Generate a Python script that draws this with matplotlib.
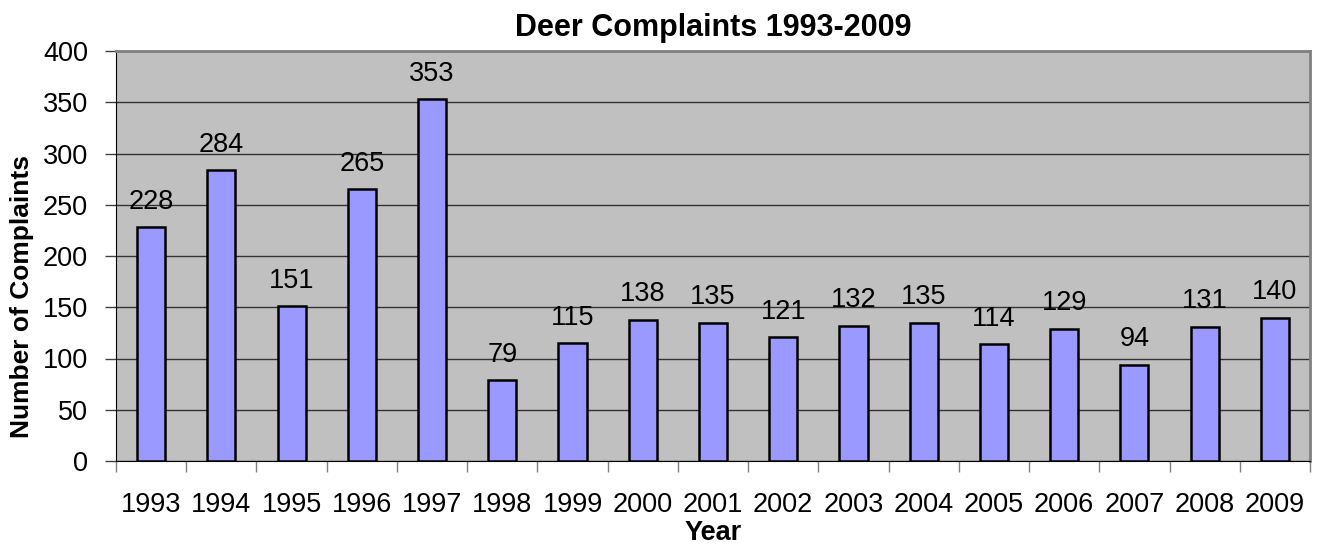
import matplotlib
matplotlib.use("Agg")
import matplotlib.pyplot as plt
import numpy as np

years = ["1993", "1994", "1995", "1996", "1997", "1998", "1999", "2000", "2001",
         "2002", "2003", "2004", "2005", "2006", "2007", "2008", "2009"]
complaints = [228, 284, 151, 265, 353, 79, 115, 138, 135, 121, 132, 135, 114, 129, 94, 131, 140]
yticks = [0, 50, 100, 150, 200, 250, 300, 350, 400]

plt.rcParams['font.family'] = ['Liberation Sans', 'DejaVu Sans']

fig = plt.figure(figsize=(13.22, 5.44), dpi=100)
ax = fig.add_axes([116/1322, 1 - 461/544, (1310-116)/1322, (461-51)/544])
ax.set_facecolor('#C0C0C0')

x = np.arange(len(years))
ax.bar(x, complaints, width=0.4, color='#9999FF', edgecolor='black', linewidth=1.8, zorder=3)
for xi, v in zip(x, complaints):
    ax.text(xi, v + 12, str(v), ha='center', va='bottom', fontsize=19.5, zorder=4)

ax.set_xlim(-0.5, len(years) - 0.5)
ax.set_ylim(0, 400)
ax.set_yticks(yticks)
ax.yaxis.grid(True, color='#333333', linewidth=1.0, zorder=1)
ax.set_axisbelow(True)

ax.set_xticks(np.arange(-0.5, len(years), 1.0))
ax.set_xticklabels([])
ax.set_xticks(x, minor=True)
ax.set_xticklabels(years, minor=True)
ax.tick_params(axis='x', which='major', direction='out', length=8, color='#808080', width=1)
ax.tick_params(axis='x', which='minor', length=0, pad=22, labelsize=19.5)
ax.tick_params(axis='y', direction='out', length=8, width=1, color='#404040', labelsize=19.5, pad=12)

for s in ['top', 'right']:
    ax.spines[s].set_color('#808080')
    ax.spines[s].set_linewidth(2)
ax.spines['left'].set_color('black')
ax.spines['bottom'].set_color('black')

ax.set_title('Deer Complaints 1993-2009', fontsize=22, fontweight='bold', pad=11)
ax.set_xlabel('Year', fontsize=19.5, fontweight='bold', labelpad=2)
ax.set_ylabel('Number of Complaints', fontsize=19, fontweight='bold')
ax.yaxis.set_label_coords(-0.0687, 0.401)

fig.savefig('out.png', dpi=100)
